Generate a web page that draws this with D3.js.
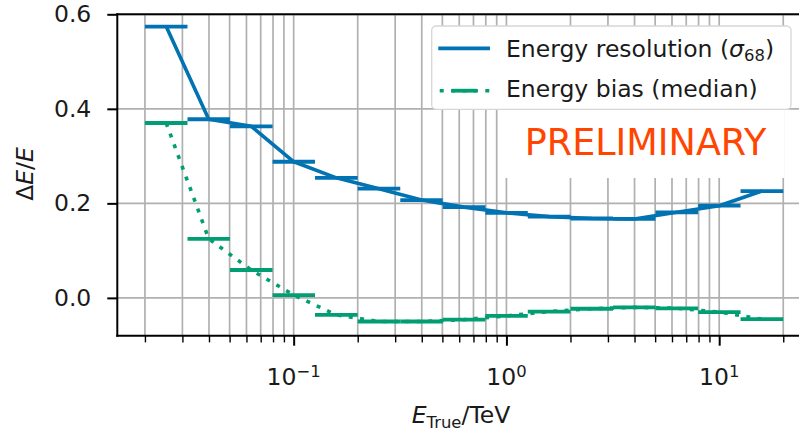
<!DOCTYPE html>
<html>
<head>
<meta charset="utf-8">
<script src="https://cdn.jsdelivr.net/npm/d3@7"></script>
<style>
  html, body { margin: 0; padding: 0; background: #fff; }
  svg { display: block; font-family: "DejaVu Sans", sans-serif; }
</style>
</head>
<body>
<svg id="chart" width="799" height="430"></svg>
<script>
// Bin edges in true energy (TeV), five log bins per decade
const binEdges = [0.02, 0.0317, 0.0502, 0.0796, 0.126, 0.2, 0.317, 0.502,
                  0.796, 1.26, 2.0, 3.17, 5.02, 7.96, 12.6, 20.0];
// Energy resolution (sigma_68) per bin
const resolution = [0.574, 0.378, 0.363, 0.288, 0.254, 0.231, 0.207, 0.192,
                    0.180, 0.172, 0.168, 0.167, 0.181, 0.195, 0.226];
// Energy bias (median) per bin
const bias = [0.370, 0.125, 0.059, 0.006, -0.036, -0.050, -0.050, -0.046,
              -0.038, -0.029, -0.023, -0.020, -0.022, -0.030, -0.045];

const yTicks = [0.0, 0.2, 0.4, 0.6];
const xMajorTicks = [0.1, 1, 10];
const xMajorLabels = [["10", "\u22121"], ["10", "0"], ["10", "1"]];
const xMinorTicks = [0.02, 0.03, 0.04, 0.05, 0.06, 0.07, 0.08, 0.09,
                     0.2, 0.3, 0.4, 0.5, 0.6, 0.7, 0.8, 0.9,
                     2, 3, 4, 5, 6, 7, 8, 9, 20];

const seriesNames = ["Energy resolution", "Energy bias (median)"];
const colors = { res: "#0173b2", bias: "#029e73" };

const svg = d3.select("#chart");
const plot = { left: 117.3, right: 802, top: 14.3, bottom: 335.7 };

const x = d3.scaleLog().domain([0.01483, 24.5]).range([plot.left, plot.right]);
const y = d3.scaleLinear().domain([-0.08, 0.6]).range([plot.bottom, plot.top]);

const FS = 23.5;
const textColor = "#1a1a1a";
const gridColor = "#b0b0b0";

// clip for plot contents
svg.append("defs").append("clipPath").attr("id", "plotclip")
  .append("rect").attr("x", plot.left).attr("y", plot.top)
  .attr("width", plot.right - plot.left).attr("height", plot.bottom - plot.top);

// grid lines (major and minor on x, major on y)
const grid = svg.append("g").attr("clip-path", "url(#plotclip)");
grid.selectAll("line.vx").data(xMinorTicks.concat(xMajorTicks)).join("line")
  .attr("x1", d => x(d)).attr("x2", d => x(d))
  .attr("y1", plot.top).attr("y2", plot.bottom)
  .attr("stroke", gridColor).attr("stroke-width", 1.7);
grid.selectAll("line.hy").data(yTicks).join("line")
  .attr("x1", plot.left).attr("x2", plot.right)
  .attr("y1", d => y(d)).attr("y2", d => y(d))
  .attr("stroke", gridColor).attr("stroke-width", 1.7);

// white backing box behind the PRELIMINARY stamp
svg.append("rect").attr("x", 500).attr("y", 104).attr("width", 284).attr("height", 74)
  .attr("fill", "#fff");

// data: per-bin horizontal bars plus a line through bin centres
const centers = binEdges.slice(0, -1).map((e, i) => Math.sqrt(e * binEdges[i + 1]));

function drawSeries(values, color, dash) {
  const g = svg.append("g").attr("clip-path", "url(#plotclip)");
  g.append("path")
    .datum(values.map((v, i) => [centers[i], v]))
    .attr("d", d3.line().x(d => x(d[0])).y(d => y(d[1])))
    .attr("fill", "none").attr("stroke", color).attr("stroke-width", 3.6)
    .attr("stroke-dasharray", dash)
    .attr("stroke-linejoin", "round");
  g.selectAll("line.bar").data(values).join("line")
    .attr("x1", (v, i) => x(binEdges[i])).attr("x2", (v, i) => x(binEdges[i + 1]))
    .attr("y1", v => y(v)).attr("y2", v => y(v))
    .attr("stroke", color).attr("stroke-width", 3.8);
}
drawSeries(resolution, colors.res, null);
drawSeries(bias, colors.bias, "4 7.4");

// spines
svg.append("line").attr("x1", plot.left).attr("x2", plot.left)
  .attr("y1", plot.top).attr("y2", plot.bottom)
  .attr("stroke", "#000").attr("stroke-width", 2).attr("stroke-linecap", "square");
svg.append("line").attr("x1", plot.left).attr("x2", plot.right)
  .attr("y1", plot.bottom).attr("y2", plot.bottom)
  .attr("stroke", "#000").attr("stroke-width", 2).attr("stroke-linecap", "square");
svg.append("line").attr("x1", plot.left).attr("x2", plot.right)
  .attr("y1", plot.top).attr("y2", plot.top)
  .attr("stroke", "#000").attr("stroke-width", 2).attr("stroke-linecap", "square");

// x axis ticks
const xMinorAxis = svg.append("g").attr("transform", `translate(0,${plot.bottom})`)
  .call(d3.axisBottom(x).tickValues(xMinorTicks).tickSize(6.7).tickFormat(""));
xMinorAxis.select(".domain").remove();
xMinorAxis.selectAll("line").attr("stroke", "#000").attr("stroke-width", 1.4);

const xMajorAxis = svg.append("g").attr("transform", `translate(0,${plot.bottom})`)
  .call(d3.axisBottom(x).tickValues(xMajorTicks).tickSize(10).tickFormat(""));
xMajorAxis.select(".domain").remove();
xMajorAxis.selectAll("line").attr("stroke", "#000").attr("stroke-width", 2);

// x tick labels (powers of ten)
const xl = svg.append("g").attr("font-size", FS).attr("fill", textColor);
xMajorTicks.forEach((t, i) => {
  const txt = xl.append("text").attr("x", x(t)).attr("y", 384.5).attr("text-anchor", "middle");
  txt.append("tspan").text(xMajorLabels[i][0]);
  txt.append("tspan").attr("font-size", FS * 0.7).attr("dy", -7.5).text(xMajorLabels[i][1]);
});

// y axis
const yAxis = svg.append("g").attr("transform", `translate(${plot.left},0)`)
  .call(d3.axisLeft(y).tickValues(yTicks).tickSize(10).tickPadding(16).tickFormat(d3.format(".1f")));
yAxis.select(".domain").remove();
yAxis.selectAll("line").attr("stroke", "#000").attr("stroke-width", 2);
yAxis.selectAll("text").attr("font-size", FS).attr("fill", textColor)
  .attr("font-family", "DejaVu Sans");

// axis titles
const xt = svg.append("text").attr("x", 461).attr("y", 423.3).attr("text-anchor", "middle")
  .attr("font-size", FS).attr("fill", textColor);
xt.append("tspan").attr("font-style", "italic").text("E");
xt.append("tspan").attr("font-size", FS * 0.7).attr("dy", 4.2).text("True");
xt.append("tspan").attr("dy", -4.2).text("/TeV");

const yt = svg.append("text").attr("transform", "translate(33.3,174) rotate(-90)")
  .attr("text-anchor", "middle").attr("font-size", FS).attr("fill", textColor);
yt.append("tspan").text("\u0394");
yt.append("tspan").attr("font-style", "italic").text("E");
yt.append("tspan").text("/");
yt.append("tspan").attr("font-style", "italic").text("E");

// PRELIMINARY stamp
svg.append("text").attr("x", 645.5).attr("y", 155).attr("text-anchor", "middle")
  .attr("font-size", 36.5).attr("fill", "#ff4500").text("PRELIMINARY");

// legend
const lg = svg.append("g");
lg.append("rect").attr("x", 431.7).attr("y", 26).attr("width", 359.3).attr("height", 83.3)
  .attr("rx", 4.5).attr("fill", "#fff").attr("stroke", "#d6d6d6").attr("stroke-width", 1.3);
lg.append("line").attr("x1", 438.3).attr("x2", 490).attr("y1", 48.3).attr("y2", 48.3)
  .attr("stroke", colors.res).attr("stroke-width", 3.8);
lg.append("line").attr("x1", 438.3).attr("x2", 490).attr("y1", 90.7).attr("y2", 90.7)
  .attr("stroke", colors.bias).attr("stroke-width", 3.6).attr("stroke-dasharray", "4 7.4")
  .attr("stroke-dashoffset", -1.4);
lg.append("line").attr("x1", 451.7).attr("x2", 476.7).attr("y1", 90.7).attr("y2", 90.7)
  .attr("stroke", colors.bias).attr("stroke-width", 3.8);

const l1 = lg.append("text").attr("x", 506).attr("y", 57.3).attr("font-size", FS).attr("fill", textColor);
l1.append("tspan").text(seriesNames[0] + " (");
l1.append("tspan").attr("font-style", "italic").text("\u03c3");
l1.append("tspan").attr("font-size", FS * 0.7).attr("dy", 3.5).text("68");
l1.append("tspan").attr("dy", -3.5).text(")");
lg.append("text").attr("x", 506).attr("y", 96.7).attr("font-size", FS).attr("fill", textColor)
  .text(seriesNames[1]);
</script>
</body>
</html>
